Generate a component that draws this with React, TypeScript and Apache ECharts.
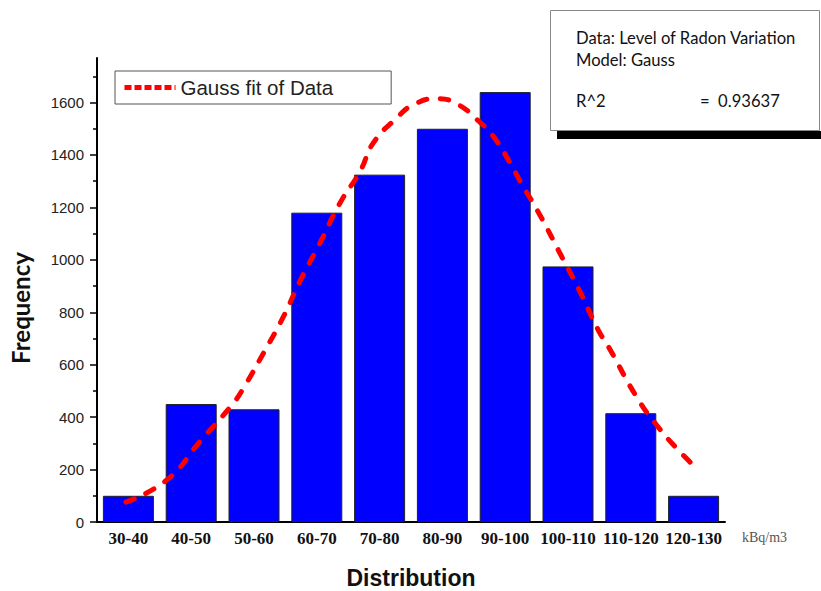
import React, { useEffect, useRef } from "react";
import * as echarts from "echarts";

const categories = ["30-40", "40-50", "50-60", "60-70", "70-80", "80-90", "90-100", "100-110", "110-120", "120-130"];
const frequencies = [100, 450, 430, 1180, 1325, 1500, 1640, 975, 415, 100];
const yTickValues = [0, 200, 400, 600, 800, 1000, 1200, 1400, 1600];
// Gauss fit curve: [distribution (kBq/m3), frequency]
const gaussFit: [number, number][] = [
  [34.6, 76], [41.1, 160], [46.4, 307], [51.5, 447], [53.3, 510], [56.5, 644],
  [59.7, 784], [62.3, 918], [65.5, 1064], [68.7, 1217], [71.9, 1338], [74.0, 1446],
  [77.7, 1541], [80.4, 1592], [84.1, 1615], [87.3, 1595], [90.5, 1535], [93.1, 1471],
  [95.8, 1369], [97.4, 1299], [100.5, 1172], [103.7, 1026], [106.9, 879], [109.8, 733],
  [111.5, 666], [115.9, 478], [119.1, 370], [122.3, 281], [125.2, 211],
];
const infoLines = ["Data: Level of Radon Variation", "Model: Gauss"];
const r2Label = "R^2";
const r2Value = "=  0.93637";

export default function App() {
  const ref = useRef<HTMLDivElement>(null);
  useEffect(() => {
    if (!ref.current) return;
    const chart = echarts.init(ref.current, null, { renderer: "svg" });
    chart.setOption({
      animation: false,
      backgroundColor: "#ffffff",
      grid: { left: 97, right: 96, top: 58, bottom: 69, outerBoundsMode: "none", containLabel: false },
      legend: {
        data: ["Gauss fit of Data"],
        left: 115,
        top: 71,
        orient: "horizontal",
        padding: [6, 58, 6, 7],
        borderColor: "#555",
        borderWidth: 1,
        itemWidth: 51,
        itemHeight: 14,
        itemStyle: { opacity: 0 },
        lineStyle: { type: [7, 3], width: 5, color: "#ff0000", cap: "butt" },
        textStyle: { fontFamily: "Liberation Sans, Arial", fontSize: 20.5, color: "#222" },
      },
      xAxis: [
        {
          type: "category",
          data: categories,
          boundaryGap: true,
          axisLine: { lineStyle: { color: "#000", width: 2 } },
          axisTick: { show: false },
          axisLabel: {
            fontFamily: "Liberation Serif, Times New Roman",
            fontWeight: "bold",
            fontSize: 17,
            color: "#111",
            margin: 8,
            interval: 0,
          },
          name: "Distribution",
          nameLocation: "middle",
          nameGap: 44,
          nameTextStyle: { fontFamily: "Liberation Sans, Arial", fontWeight: "bold", fontSize: 23, color: "#111" },
        },
        { type: "value", min: 30, max: 130, show: false },
      ],
      yAxis: {
        type: "value",
        min: 0,
        max: 1770,
        interval: 200,
        axisLine: { show: true, lineStyle: { color: "#000", width: 2 } },
        axisTick: { show: true, length: 7, lineStyle: { color: "#000", width: 1.5 }, customValues: yTickValues },
        minorTick: { show: true, splitNumber: 2, length: 4, lineStyle: { color: "#000", width: 1.5 } },
        splitLine: { show: false },
        axisLabel: {
          customValues: yTickValues,
          formatter: (v: number) => String(v),
          fontFamily: "Liberation Sans, Arial",
          fontSize: 15,
          color: "#222",
          margin: 13,
        },
      },
      series: [
        {
          name: "Frequency",
          type: "bar",
          data: frequencies,
          barWidth: 51,
          itemStyle: { color: "#0000ff", borderColor: "#222", borderWidth: 1 },
        },
        {
          name: "Gauss fit of Data",
          type: "line",
          xAxisIndex: 1,
          data: gaussFit,
          smooth: true,
          symbol: "none",
          showSymbol: false,
          lineStyle: { color: "#ff0000", width: 5, type: [9, 13], cap: "round" },
          z: 5,
        },
      ],
      graphic: [
        {
          type: "text",
          x: 20,
          y: 308,
          rotation: Math.PI / 2,
          style: {
            text: "Frequency",
            font: "bold 24px Lato, 'Open Sans', sans-serif",
            fill: "#111",
            align: "center",
            verticalAlign: "middle",
          },
        },
        {
          type: "text",
          x: 742,
          y: 537,
          style: {
            text: "kBq/m3",
            font: "14px 'Liberation Serif', 'Times New Roman', serif",
            fill: "#555",
            align: "left",
            verticalAlign: "middle",
          },
        },
        {
          type: "rect",
          shape: { x: 557, y: 131, width: 270, height: 8 },
          style: { fill: "#000" },
          z: 10,
        },
        {
          type: "rect",
          shape: { x: 550.5, y: 10.5, width: 269, height: 120 },
          style: { fill: "#fff", stroke: "#888", lineWidth: 1 },
          z: 11,
        },
        {
          type: "text",
          x: 576,
          y: 38,
          z: 12,
          style: { text: infoLines[0], font: "16.6px Lato, 'Open Sans', sans-serif", fill: "#111", verticalAlign: "middle" },
        },
        {
          type: "text",
          x: 576,
          y: 60,
          z: 12,
          style: { text: infoLines[1], font: "16.6px Lato, 'Open Sans', sans-serif", fill: "#111", verticalAlign: "middle" },
        },
        {
          type: "text",
          x: 576,
          y: 101,
          z: 12,
          style: { text: r2Label, font: "16.6px Lato, 'Open Sans', sans-serif", fill: "#111", verticalAlign: "middle" },
        },
        {
          type: "text",
          x: 700,
          y: 101,
          z: 12,
          style: { text: r2Value, font: "16.6px Lato, 'Open Sans', sans-serif", fill: "#111", verticalAlign: "middle" },
        },
      ],
    });
    return () => chart.dispose();
  }, []);
  return <div ref={ref} style={{ position: "fixed", left: 0, top: 0, width: 821, height: 591 }} />;
}
